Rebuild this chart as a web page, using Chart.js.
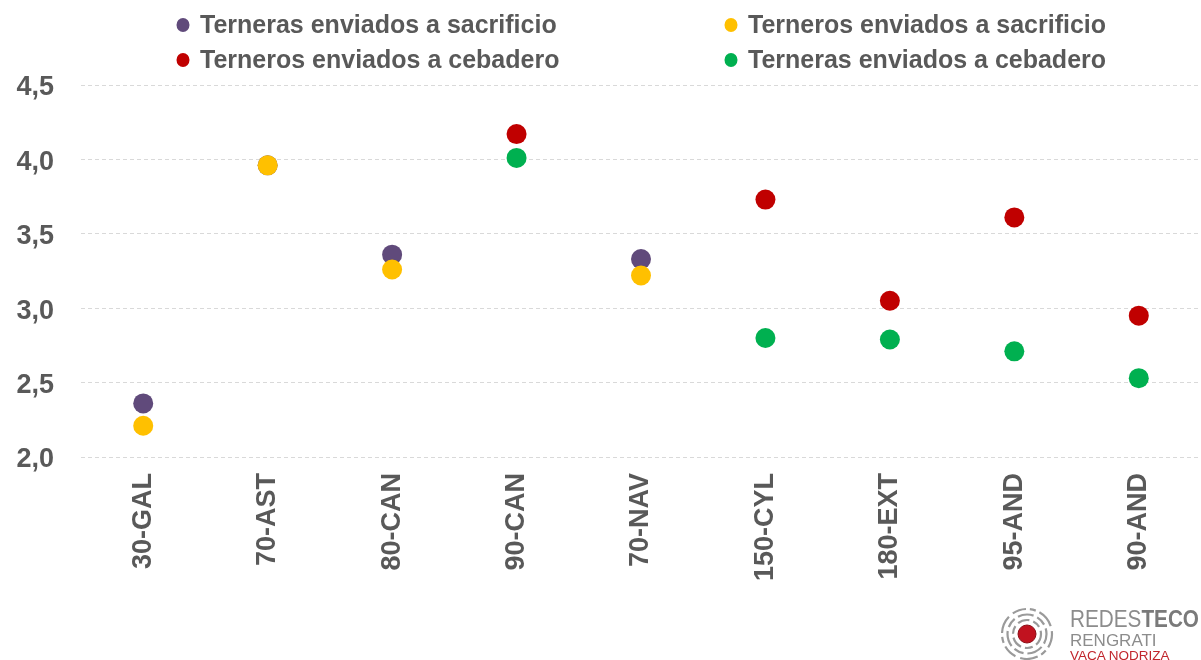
<!DOCTYPE html>
<html>
<head>
<meta charset="utf-8">
<script src="https://cdn.jsdelivr.net/npm/chart.js@4.4.1/dist/chart.umd.min.js"></script>
<style>
  html, body { margin: 0; padding: 0; background: #ffffff; }
  #wrap { position: relative; width: 1201px; height: 660px; overflow: hidden; }
  #c { position: absolute; left: 0; top: 0; }
  #logo { position: absolute; left: 998px; top: 602px; width: 203px; height: 58px; }
</style>
</head>
<body>
<div id="wrap">
  <canvas id="c" width="1201" height="660"></canvas>
  <svg id="logo" width="203" height="58" viewBox="0 0 203 58">
    <g fill="none" stroke="#9a9a9a" stroke-width="2.2">
      <circle cx="29" cy="32" r="25" stroke-dasharray="14 4 6 4 18 5"/>
      <circle cx="29" cy="32" r="19.5" stroke-dasharray="10 4 16 4"/>
      <circle cx="29" cy="32" r="14" stroke-dasharray="12 4 8 4"/>
    </g>
    <circle cx="29" cy="32" r="9" fill="#c1121f" stroke="#8a0e16" stroke-width="1"/>
    <text x="72" y="25" textLength="129" lengthAdjust="spacingAndGlyphs" font-family="Liberation Sans, Arial, sans-serif" font-size="23" fill="#8c8c8c" font-weight="300">REDES<tspan font-weight="bold" fill="#7a7a7a">TECO</tspan></text>
    <text x="72" y="44" font-family="Liberation Sans, Arial, sans-serif" font-size="17" fill="#8c8c8c">RENGRATI</text>
    <text x="72" y="58" font-family="Liberation Sans, Arial, sans-serif" font-size="13.5" fill="#c1272d">VACA NODRIZA</text>
  </svg>
</div>
<script>
const categories = ['30-GAL', '70-AST', '80-CAN', '90-CAN', '70-NAV', '150-CYL', '180-EXT', '95-AND', '90-AND'];
const seriesNames = ['Terneras enviados a sacrificio', 'Terneros enviados a sacrificio', 'Terneros enviados a cebadero', 'Terneras enviados a cebadero'];
const terneraSacrificio = [2.36, 3.96, 3.36, null, 3.33, null, null, null, null];
const terneroSacrificio = [2.21, 3.96, 3.26, null, 3.22, null, null, null, null];
const terneroCebadero   = [null, null, null, 4.17, null, 3.73, 3.05, 3.61, 2.95];
const terneraCebadero   = [null, null, null, 4.01, null, 2.80, 2.79, 2.71, 2.53];
const yTicks = [2.0, 2.5, 3.0, 3.5, 4.0, 4.5];

const colors = ['#604A7B', '#FFC000', '#C00000', '#00B050'];
const FONT = '"Liberation Sans", Arial, sans-serif';
const TEXT = '#595959';

function ds(label, data, color, order) {
  return {
    label, data, order,
    showLine: false,
    backgroundColor: color,
    borderColor: color,
    pointBackgroundColor: color,
    pointBorderColor: color,
    pointBorderWidth: 0,
    pointRadius: 10,
    pointHoverRadius: 10,
    spanGaps: false
  };
}

const legendPlugin = {
  id: 'gridLegend',
  afterDraw(chart) {
    const ctx = chart.ctx;
    const items = chart.data.datasets;
    const cols = [183, 731];
    const rows = [25, 60];
    const layout = [[0,0],[1,0],[0,1],[1,1]];
    ctx.save();
    ctx.font = 'bold 25px ' + FONT;
    ctx.textBaseline = 'middle';
    ctx.textAlign = 'left';
    items.forEach((d, i) => {
      const [c, r] = layout[i];
      const x = cols[c], y = rows[r];
      ctx.fillStyle = d.backgroundColor;
      ctx.beginPath();
      ctx.ellipse(x, y, 6.5, 7, 0, 0, Math.PI * 2);
      ctx.fill();
      ctx.fillStyle = TEXT;
      ctx.fillText(d.label, x + 17, y + 1);
    });
    ctx.restore();
  }
};

new Chart(document.getElementById('c'), {
  type: 'line',
  data: {
    labels: categories,
    datasets: [
      ds(seriesNames[0], terneraSacrificio, colors[0], 2),
      ds(seriesNames[1], terneroSacrificio, colors[1], 1),
      ds(seriesNames[2], terneroCebadero, colors[2], 4),
      ds(seriesNames[3], terneraCebadero, colors[3], 3)
    ]
  },
  options: {
    responsive: false,
    animation: false,
    devicePixelRatio: 1,
    layout: { autoPadding: false, padding: { top: 85, left: 0, right: 0, bottom: 0 } },
    plugins: {
      legend: { display: false },
      tooltip: { enabled: false }
    },
    scales: {
      x: {
        type: 'category',
        offset: true,
        grid: { display: false, drawTicks: false },
        border: { display: false },
        ticks: {
          minRotation: 90,
          maxRotation: 90,
          padding: 16,
          color: TEXT,
          font: { family: FONT, size: 27, weight: 'bold' },
          autoSkip: false
        },
        afterFit(scale) {
          scale.height = 203;
          scale.paddingLeft = 0;
          scale.paddingRight = 0;
        }
      },
      y: {
        min: yTicks[0],
        max: yTicks[yTicks.length - 1],
        afterBuildTicks(scale) { scale.ticks = yTicks.map(v => ({ value: v })); },
        grid: {
          color: '#D9D9D9',
          lineWidth: 1,
          drawTicks: false
        },
        border: { display: false, dash: [4, 3] },
        ticks: {
          padding: 27,
          labelOffset: 3,
          color: TEXT,
          font: { family: FONT, size: 27, weight: 'bold' },
          callback: (v) => Number(v).toFixed(1).replace('.', ',')
        },
        afterFit(scale) {
          scale.width = 81;
          scale.paddingTop = 0;
          scale.paddingBottom = 0;
        }
      }
    }
  },
  plugins: [legendPlugin]
});
</script>
</body>
</html>
